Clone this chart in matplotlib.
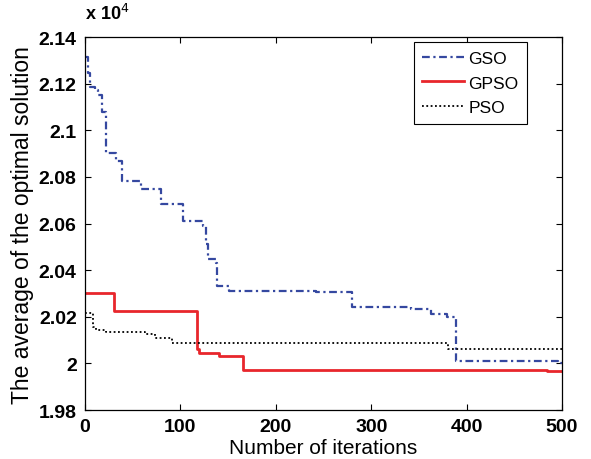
import matplotlib
matplotlib.use("Agg")
import matplotlib.pyplot as plt
from matplotlib.ticker import FuncFormatter

plt.rcParams["font.family"] = ["Liberation Sans", "DejaVu Sans"]

# values in units of 10^4 (step curves, post)
gso_iter = [0, 3, 5, 10, 14, 18, 22, 31, 32, 39, 59, 80, 103, 124, 127, 129,
            137, 138, 151, 242, 280, 342, 363, 379, 389, 496, 500]
gso_val = [2.1316, 2.1245, 2.1188, 2.1175, 2.1150, 2.1081, 2.0905, 2.0903,
           2.0868, 2.0782, 2.0748, 2.0685, 2.0611, 2.0590, 2.0513, 2.0449,
           2.0432, 2.0333, 2.0312, 2.0308, 2.0244, 2.0235, 2.0214, 2.0201,
           2.0009, 2.0003, 2.0003]

gpso_iter = [0, 30, 117, 120, 140, 166, 484, 500]
gpso_val = [2.0302, 2.0226, 2.0063, 2.0046, 2.0031, 1.9973, 1.9966, 1.9966]

pso_iter = [0, 8, 12, 22, 63, 73, 91, 380, 500]
pso_val = [2.0218, 2.0158, 2.0145, 2.0134, 2.0127, 2.0110, 2.0087, 2.0060, 2.0060]

fig = plt.figure(figsize=(5.91, 4.60), dpi=100)
ax = fig.add_axes([0.1438, 0.1065, 0.8072, 0.8105])

ax.step(gso_iter, gso_val, where="post", color="#3548a0", lw=1.6,
        dashes=(3.5, 1.6, 1.0, 1.6), label="GSO")
ax.step(gpso_iter, gpso_val, where="post", color="#e8262c", lw=2.0, label="GPSO")
ax.step(pso_iter, pso_val, where="post", color="black", lw=1.3,
        linestyle=(0, (1, 1.4)), label="PSO")

ax.set_xlim(0, 500)
ax.set_ylim(1.98, 2.14)
ax.set_xticks([0, 100, 200, 300, 400, 500])
ax.set_yticks([1.98, 2.0, 2.02, 2.04, 2.06, 2.08, 2.1, 2.12, 2.14])
ax.yaxis.set_major_formatter(FuncFormatter(lambda v, p: "%g" % round(v, 2)))
ax.tick_params(direction="in", top=True, right=True, length=4, width=0.8,
               labelsize=14, pad=6)
for lab in ax.get_xticklabels() + ax.get_yticklabels():
    lab.set_fontweight("bold")
for s in ax.spines.values():
    s.set_linewidth(0.9)

# multiplier shown above the y axis, as in the reference
ax.text(0.0, 1.05, r"x 10$^{4}$", transform=ax.transAxes, fontsize=13,
        fontweight="bold", ha="left", va="baseline")

ax.set_xlabel("Number of iterations", fontsize=15, labelpad=2)
ax.set_ylabel("The average of the optimal solution", fontsize=16.5, labelpad=3)

leg = ax.legend(loc="upper right", bbox_to_anchor=(0.927, 0.987),
                borderaxespad=0, fontsize=12.5, handlelength=2.4,
                fancybox=False, framealpha=1, edgecolor="black",
                labelspacing=0.55, handletextpad=0.25, borderpad=0.5)
leg.get_frame().set_linewidth(0.8)

fig.savefig("out.png", dpi=100)
